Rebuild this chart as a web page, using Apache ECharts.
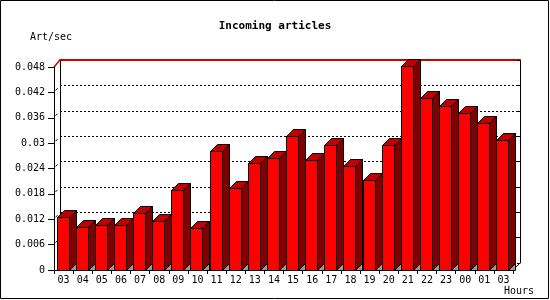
<!DOCTYPE html>
<html><head><meta charset="utf-8">
<script src="https://cdn.jsdelivr.net/npm/echarts@6/dist/echarts.min.js"></script>
<style>html,body{margin:0;padding:0;background:#fff}#c{width:550px;height:300px}</style>
</head><body><div id="c"></div>
<script>
const categories = ['03','04','05','06','07','08','09','10','11','12','13','14','15','16','17','18','19','20','21','22','23','00','01','03'];
const values = [0.0125,0.0101,0.0106,0.0106,0.0134,0.0115,0.0188,0.0099,0.0281,0.0193,0.0252,0.0264,0.0316,0.0259,0.0295,0.0245,0.0212,0.0295,0.0482,0.0406,0.0387,0.0371,0.0347,0.0307];
const yMin = 0, yMax = 0.048, yStep = 0.006;
const titleText = 'Incoming articles';
const yName = 'Art/sec';
const xName = 'Hours';

const FONT = 'DejaVu Sans Mono';
const D = 7;
const chart = echarts.init(document.getElementById('c'), null, {renderer:'canvas'});

function barItem(params, api){
  const i = api.value(0), v = api.value(1);
  const top = api.coord([i, v]);
  const base = api.coord([i, 0]);
  const bw = api.size([1, 0])[0];
  const w = Math.round(bw * 0.64);
  const x0 = Math.round(top[0] - w/2 - 1) + 0.5;
  const x1 = x0 + w;
  const yt = Math.round(top[1]) + 0.5, yb = Math.round(base[1]) + 0.5;
  const ln = {stroke:'#000', lineWidth:1};
  return {type:'group', children:[
    {type:'polygon', shape:{points:[[x1,yb],[x1+D,yb-D],[x1+D,yb]]}, style:Object.assign({fill:'#999999'},ln)},
    {type:'polygon', shape:{points:[[x1,yt],[x1+D,yt-D],[x1+D,yb-D],[x1,yb]]}, style:Object.assign({fill:'#800000'},ln)},
    {type:'polygon', shape:{points:[[x0,yt],[x0+D,yt-D],[x1+D,yt-D],[x1,yt]]}, style:Object.assign({fill:'#c00000'},ln)},
    {type:'rect', shape:{x:x0, y:yt, width:w, height:yb-yt}, style:Object.assign({fill:'#ff0000'},ln)}
  ]};
}

function frameItem(params, api){
  const bw = api.size([1, 0])[0];
  const n = categories.length;
  const tl = api.coord([0, yMax]);
  const br = api.coord([n-1, yMin]);
  const xl = tl[0] - bw/2, xr = br[0] + bw/2;
  const kids = [
    {type:'line', shape:{x1:xl, y1:tl[1], x2:xl+6, y2:tl[1]-7}, style:{stroke:'#cc0000', lineWidth:1.5}},
    {type:'line', shape:{x1:xr, y1:br[1], x2:xr+7, y2:br[1]-7}, style:{stroke:'#000', lineWidth:1}}
  ];
  for (let k = 1; k * yStep < yMax - 1e-9; k++) {
    const p = api.coord([0, yMin + k * yStep]);
    kids.push({type:'line', shape:{x1:xl+1.5, y1:p[1]-2, x2:xl+3.5, y2:p[1]-4}, style:{stroke:'#000', lineWidth:1}});
  }
  return {type:'group', children:kids};
}

chart.setOption({
  animation:false,
  backgroundColor:'#fff',
  textStyle:{fontFamily:FONT},
  title:[
    {text:titleText, left:'center', top:21, padding:0, textStyle:{fontFamily:FONT, fontSize:11, fontWeight:'bold', color:'#000'}},
    {text:yName, left:30, top:32, padding:0, textStyle:{fontFamily:FONT, fontSize:10, fontWeight:'normal', color:'#000'}},
    {text:xName, left:504, top:286, padding:0, textStyle:{fontFamily:FONT, fontSize:10, fontWeight:'normal', color:'#000'}}
  ],
  graphic:[{type:'rect', shape:{x:0.5, y:0.5, width:548, height:298}, style:{fill:'none', stroke:'#000', lineWidth:1}, z:100}],
  grid:[
    {left:54, right:37, top:67, bottom:30},
    {left:60, right:30, top:60, bottom:37}
  ],
  xAxis:[
    {gridIndex:0, type:'category', data:categories, boundaryGap:true,
     axisLine:{onZero:false, lineStyle:{color:'#000', width:1}},
     axisTick:{show:true, length:4, lineStyle:{color:'#000'}},
     axisLabel:{interval:0, margin:5, fontSize:10, color:'#000', fontFamily:FONT},
     splitLine:{show:false}, z:5},
    {gridIndex:1, type:'category', data:categories, position:'top',
     axisLine:{onZero:false, lineStyle:{color:'#cc0000', width:2}},
     axisTick:{show:false}, axisLabel:{show:false}, splitLine:{show:false}}
  ],
  yAxis:[
    {gridIndex:0, type:'value', min:yMin, max:yMax, interval:yStep,
     axisLine:{show:true, onZero:false, lineStyle:{color:'#000'}},
     axisTick:{show:true, length:6, lineStyle:{color:'#000'}},
     axisLabel:{margin:9, fontSize:10, color:'#000', fontFamily:FONT},
     splitLine:{show:false}, z:5},
    {gridIndex:1, type:'value', min:yMin, max:yMax, interval:yStep, position:'left',
     axisLine:{show:true, onZero:false, lineStyle:{color:'#000'}},
     axisTick:{show:false}, axisLabel:{show:false},
     splitLine:{show:true, showMaxLine:false, showMinLine:false, lineStyle:{color:'#000', type:[2,2], width:1}}},
    {gridIndex:1, type:'value', min:yMin, max:yMax, interval:yStep, position:'right',
     axisLine:{show:true, onZero:false, lineStyle:{color:'#000'}},
     axisTick:{show:true, inside:true, length:3, lineStyle:{color:'#000'}},
     axisLabel:{show:false}, splitLine:{show:false}}
  ],
  series:[
    {type:'custom', xAxisIndex:0, yAxisIndex:0, data:values.map((v,i)=>[i,v]), encode:{x:0,y:1}, renderItem:barItem, clip:false, z:10},
    {type:'custom', xAxisIndex:0, yAxisIndex:0, data:[[0,0]], encode:{x:0,y:1}, renderItem:frameItem, clip:false, z:3, silent:true}
  ]
});
</script></body></html>
